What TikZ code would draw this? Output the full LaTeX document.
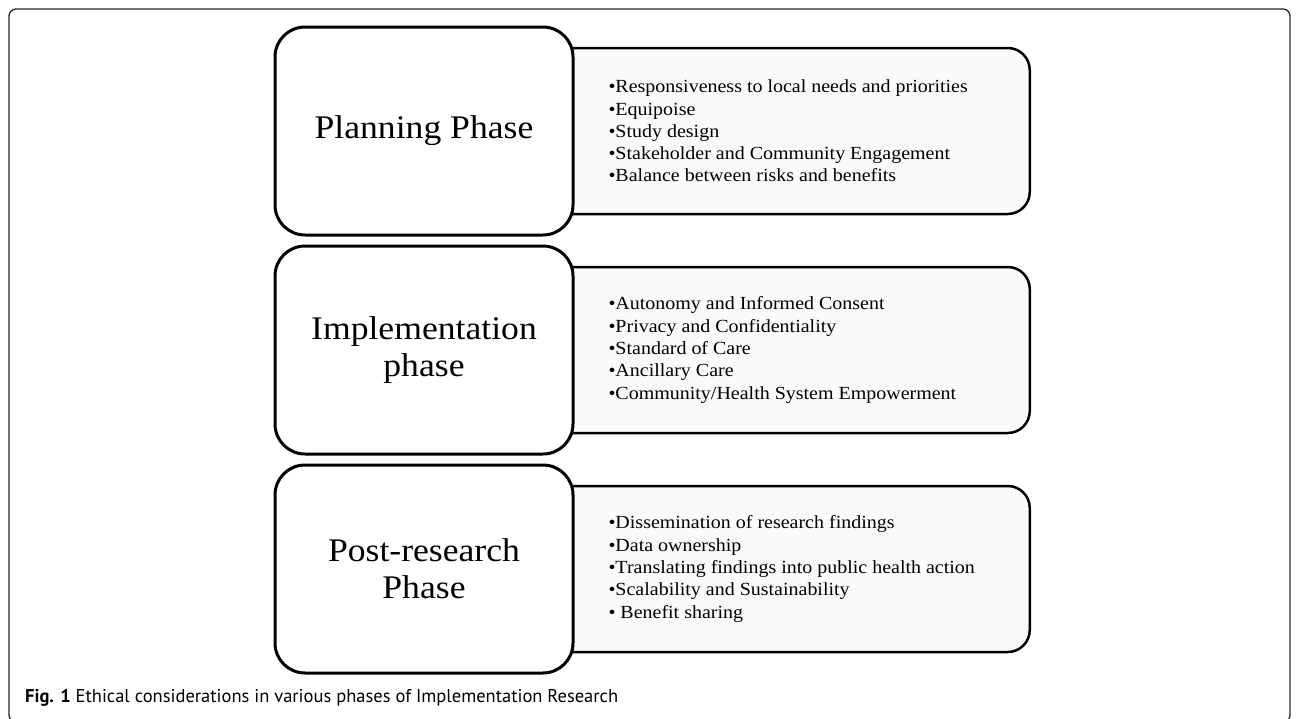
\documentclass[tikz,border=0pt]{standalone}
\usepackage{fontspec}
\setmainfont{Liberation Serif}[FakeStretch=1.08]
\newfontfamily\capfont{PT Sans}
\usetikzlibrary{positioning,backgrounds}

\begin{document}
\begin{tikzpicture}[x=1pt,y=-1pt,
phase/.style={draw,line width=3pt,rounded corners=30pt,fill=white,minimum width=298pt,minimum height=208pt,align=center,font=\fontsize{33}{37}\selectfont},
listbox/.style={draw,line width=2.5pt,rounded corners=22pt,fill=black!2,minimum width=487pt,minimum height=166pt},
items/.style={align=left,inner sep=0pt,outer sep=0pt,font=\fontsize{18.5}{22.3}\selectfont}]
\useasboundingbox (0,0) rectangle (1296,718);
\draw[line width=1.3pt,black!85,rounded corners=7pt] (9,9) rectangle (1290,722);
\node[phase] (plan) at (424,131) {Planning Phase};
\node[phase,below=8pt of plan] (impl) {Implementation\\phase};
\node[phase,below=8pt of impl] (post) {Post-research\\Phase};
\begin{scope}[on background layer]
\node[listbox,right=-33pt of plan] (planbox) {};
\node[listbox,right=-33pt of impl] (implbox) {};
\node[listbox,right=-33pt of post] (postbox) {};
\end{scope}
\node[items,right=34pt of plan] (planlist) {•Responsiveness to local needs and priorities\\•Equipoise\\•Study design\\•Stakeholder and Community Engagement\\•Balance between risks and benefits};
\node[items,right=34pt of impl] (impllist) {•Autonomy and Informed Consent\\•Privacy and Confidentiality\\•Standard of Care\\•Ancillary Care\\•Community/Health System Empowerment};
\node[items,right=34pt of post] (postlist) {•Dissemination of research findings\\•Data ownership\\•Translating findings into public health action\\•Scalability and Sustainability\\• Benefit sharing};
\node[anchor=base west,inner sep=0pt,font=\capfont\fontsize{18.5}{22}\selectfont] (caption) at (25,702) {\textbf{Fig. 1} Ethical considerations in various phases of Implementation Research};
\end{tikzpicture}
\end{document}
